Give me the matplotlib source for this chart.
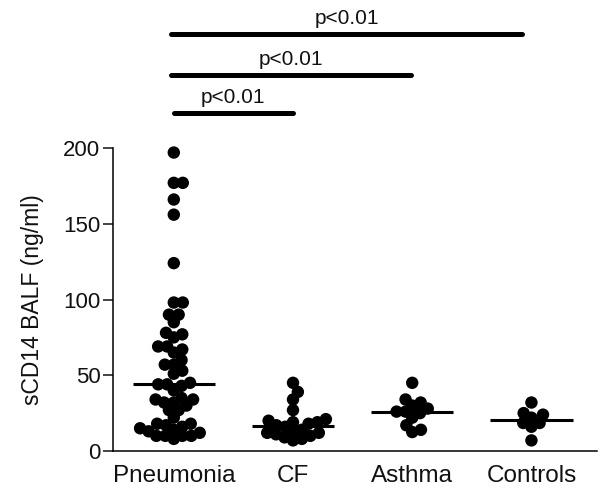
import numpy as np
import matplotlib
matplotlib.use("Agg")
import matplotlib.pyplot as plt

plt.rcParams['font.family'] = ['Liberation Sans', 'DejaVu Sans']

categories = ["Pneumonia", "CF", "Asthma", "Controls"]
pneumonia = [197, 177, 177, 166, 156, 124, 98, 98, 90, 85, 90, 78, 75, 77, 69, 65,
             69, 67, 60, 57, 57, 53, 51, 44, 44, 43, 40, 45, 32, 34, 35, 32, 30, 34,
             27, 27, 22, 18, 17, 18, 16, 13, 10, 10, 8, 10, 10, 12, 14, 15]
cf = [45, 39, 34, 27, 21, 20, 19, 19, 18, 17, 16, 14, 13, 12, 12, 11, 10, 9, 8, 7]
asthma = [45, 34, 32, 30, 28, 26, 26, 25, 22, 17, 14, 12.5]
controls = [32, 25, 24, 22, 18.5, 18.5, 16, 7]
groups = [pneumonia, cf, asthma, controls]
yticks = [0, 50, 100, 150, 200]
sig_pairs = [(0, 1), (0, 2), (0, 3)]
sig_labels = ["p<0.01", "p<0.01", "p<0.01"]
ylabel = "sCD14 BALF (ng/ml)"

fig = plt.figure(figsize=(6.0, 4.97), dpi=100)
ax = fig.add_axes([113/600, 46/497, 484/600, 303/497])
ax.set_xlim(-0.51, 3.55)
ax.set_ylim(0, 200)


def swarm(ypx, min_d):
    ypx = np.asarray(ypx, float)
    xs = np.zeros(len(ypx))
    placed = []
    for i in np.argsort(ypx):
        yi = ypx[i]
        cands = [0.0]
        for xj, yj in placed:
            dy = yi - yj
            if abs(dy) < min_d:
                dx = np.sqrt(min_d**2 - dy**2)
                cands += [xj + dx, xj - dx]
        cands.sort(key=abs)
        for c in cands:
            if all((c - xj)**2 + (yi - yj)**2 >= min_d**2 - 1e-6 for xj, yj in placed):
                xs[i] = c
                break
        placed.append((xs[i], yi))
    return xs


for i, vals in enumerate(groups):
    pts = ax.transData.transform(np.column_stack([np.full(len(vals), i), vals]))
    offs = swarm(pts[:, 1], 9.0)
    px = pts[:, 0] + offs
    data = ax.transData.inverted().transform(np.column_stack([px, pts[:, 1]]))
    ax.scatter(data[:, 0], vals, s=80, color='black', edgecolors='none', zorder=3,
               clip_on=False)
    med = np.median(vals)
    ax.plot([i - 0.345, i + 0.345], [med, med], color='black', lw=2.2, zorder=4,
            solid_capstyle='butt')

ax.spines['top'].set_visible(False)
ax.spines['right'].set_visible(False)
ax.spines['left'].set_linewidth(1.1)
ax.spines['bottom'].set_linewidth(1.1)
ax.spines['left'].set_bounds(0, 200)

ax.set_yticks(yticks)
ax.set_yticklabels([str(t) for t in yticks], fontsize=16)
ax.tick_params(axis='y', direction='out', length=7, width=1.1, pad=2, colors='#111111')
ax.set_xticks(range(len(categories)))
ax.set_xticklabels(categories, fontsize=17.5)
ax.tick_params(axis='x', length=0, pad=10, colors='#111111')

ax.set_ylabel(ylabel, fontsize=16.5, labelpad=14, color='#111111')

sig_y = [223, 248, 275]
sig_end = [1.0, 1.99, 2.92]
for (a, b), lab, yv, xe in zip(sig_pairs, sig_labels, sig_y, sig_end):
    xs0 = a - 0.02 if b > 1 else a
    ax.plot([xs0, xe], [yv, yv], color='black', lw=3.6, solid_capstyle='round',
            clip_on=False)
    ax.text((xs0 + xe) / 2, yv + 4, lab, ha='center', va='bottom', fontsize=15,
            color='#111111', clip_on=False)

fig.savefig("out.png", dpi=100)
